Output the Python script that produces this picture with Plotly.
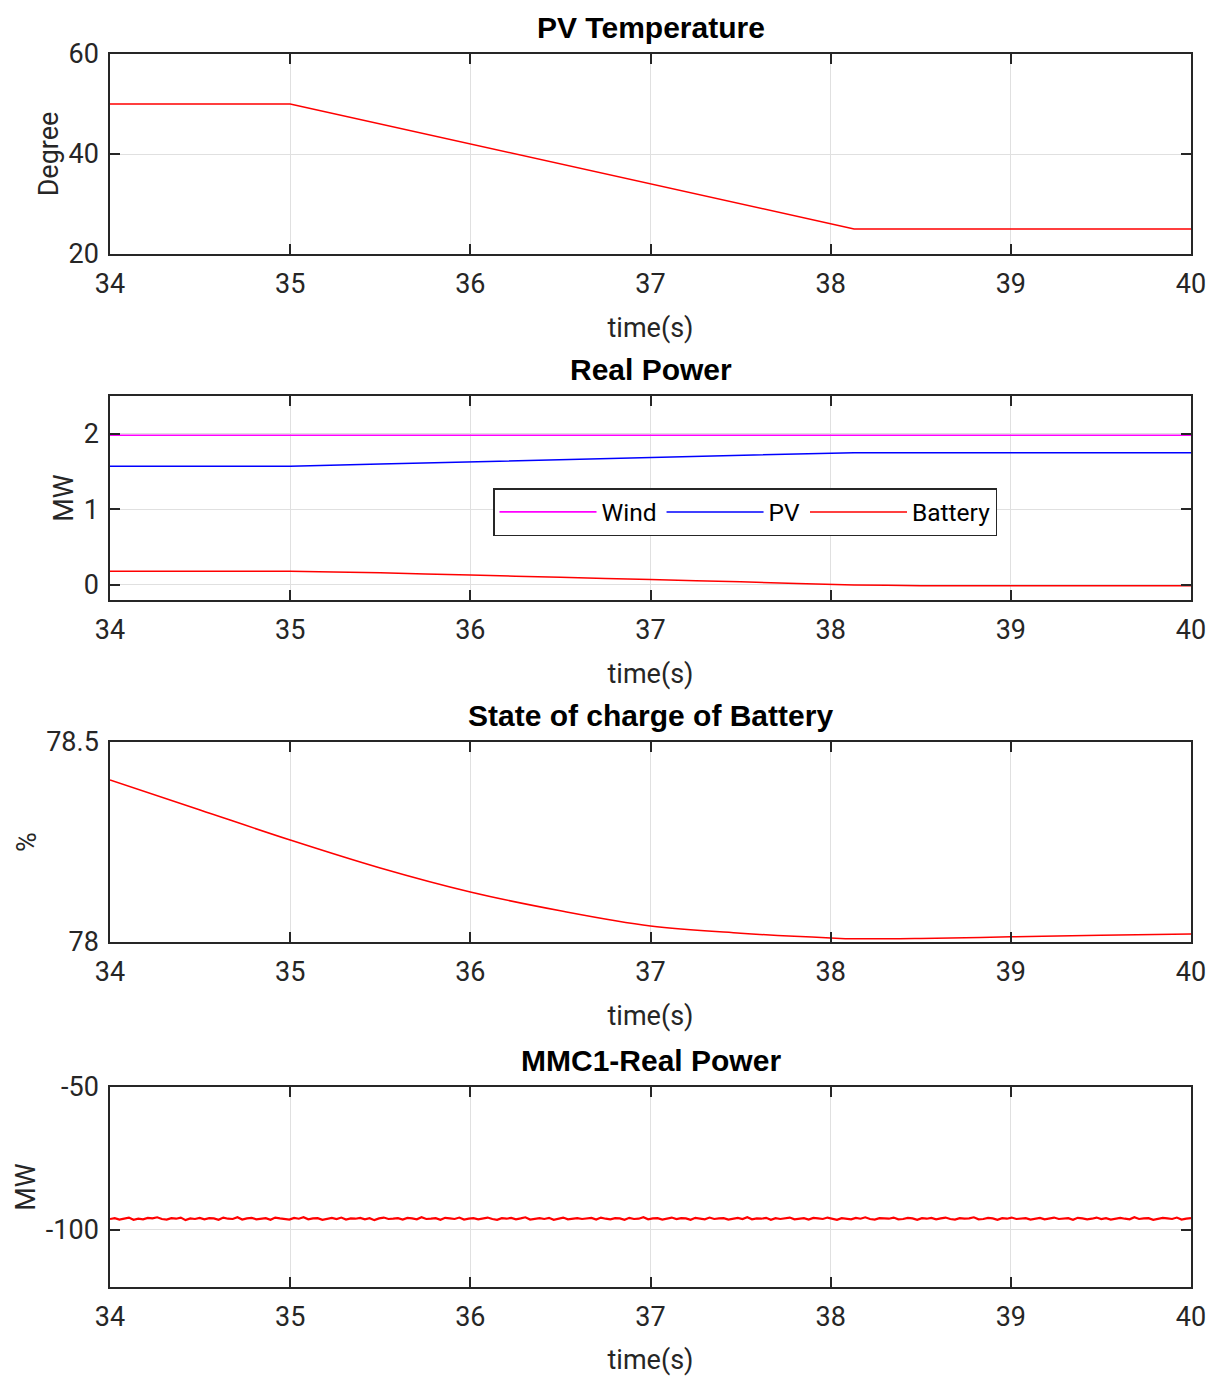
import plotly.graph_objects as go

# ---------------- data ----------------
t_temp = [34, 35, 38.13, 40]
temp = [50, 50, 25, 25]

t_pow = [34, 35, 35.5, 36, 36.5, 37, 37.5, 38.13, 38.5, 39, 40]
wind = [1.98, 1.98, 1.98, 1.98, 1.98, 1.98, 1.98, 1.98, 1.98, 1.98, 1.98]
pv = [1.57, 1.57, 1.60, 1.63, 1.66, 1.69, 1.72, 1.75, 1.75, 1.75, 1.75]
battery = [0.18, 0.18, 0.16, 0.13, 0.10, 0.07, 0.04, 0.0, -0.01, -0.01, -0.01]

t_soc = [34, 34.5, 35, 35.5, 36, 36.5, 37, 37.5, 38, 38.13, 38.5, 39, 39.5, 40]
soc = [78.405, 78.33, 78.255, 78.185, 78.125, 78.078, 78.04, 78.022, 78.01, 78.008,
       78.009, 78.013, 78.017, 78.02]

mmc_start, mmc_end = 34.0, 40.0
mmc = [-96.2, -95.9, -96.4, -96.0, -95.7, -96.5, -96.1, -96.3, -95.8, -96.0,
       -95.6, -96.2, -96.4, -95.9, -96.1, -95.7, -96.6, -96.0, -96.2, -95.8,
       -96.3, -95.9, -96.0, -96.5, -95.7, -96.1, -96.2, -95.6, -96.4, -96.0,
       -95.8, -96.3, -96.1, -95.9, -96.5, -95.7, -96.0, -96.2, -96.4, -95.8,
       -96.1, -95.6, -96.3, -96.0, -95.9, -96.5, -96.1, -95.8, -96.2, -95.7,
       -96.4, -96.0, -96.1, -95.8, -96.3, -95.9, -96.6, -96.0, -95.7, -96.2,
       -96.1, -95.9, -96.4, -95.8, -96.0, -96.3, -95.6, -96.2, -96.1, -95.9,
       -96.5, -95.8, -96.0, -96.2, -95.7, -96.4, -96.1, -95.9, -96.3, -96.0,
       -95.7, -96.2, -96.5, -95.9, -96.1, -95.8, -96.3, -96.0, -95.6, -96.4,
       -96.1, -95.9, -96.2, -95.8, -96.5, -96.0, -95.7, -96.3, -96.1, -95.9,
       -96.2, -96.0, -95.8, -96.4, -95.7, -96.1, -96.3, -95.9, -96.0, -96.5,
       -95.8, -96.2, -96.1, -95.6, -96.3, -96.0, -95.9, -96.4, -96.1, -95.7,
       -96.2, -95.9, -96.0, -96.5, -95.8, -96.1, -96.3, -95.7, -96.2, -96.0,
       -95.9, -96.4, -96.1, -95.8, -96.2, -95.6, -96.3, -96.0, -96.1, -95.8,
       -96.5, -95.9, -96.2, -96.0, -95.7, -96.3, -96.1, -95.9, -96.4, -95.8,
       -96.0, -96.2, -95.7, -96.1, -96.5, -95.9, -96.0, -96.3, -95.8, -96.1,
       -95.6, -96.2, -96.4, -95.9, -96.0, -96.1, -95.7, -96.3, -96.2, -95.8,
       -96.0, -96.5, -95.9, -96.1, -95.8, -96.3, -96.0, -95.7, -96.2, -96.4,
       -95.9, -96.1, -96.0, -95.6, -96.3, -96.2, -95.8, -96.0, -96.5, -95.9,
       -96.1, -95.7, -96.2, -96.0, -95.9, -96.4, -96.1, -95.8, -96.3, -96.0,
       -95.7, -96.2, -96.1, -95.9, -96.5, -95.8, -96.0, -96.3, -96.1, -95.7,
       -96.2, -95.9, -96.4, -96.0, -95.8, -96.1, -96.3, -95.6, -96.2, -96.0,
       -95.9, -96.5, -96.1, -95.8, -96.0, -96.2, -95.7, -96.4, -96.1, -95.9]
mmc_t = [mmc_start + i * (mmc_end - mmc_start) / (len(mmc) - 1) for i in range(len(mmc))]

x_ticks = [34, 35, 36, 37, 38, 39, 40]
titles = ["PV Temperature", "Real Power", "State of charge of Battery", "MMC1-Real Power"]
y_titles = ["Degree", "MW", "%", "MW"]

# ---------------- figure ----------------
OFF = 8                       # default page body margin
W, H = 1215 - OFF, 1376 - OFF
PL, PR, PT, PB = 110, 1191, 54, 1287   # plot-area edges in page pixels
ml, mr, mt, mb = PL - OFF, (OFF + W) - PR, PT - OFF, (OFF + H) - PB
ph = PB - PT
frames = [(54, 254), (396, 600), (742, 942), (1087, 1287)]  # page pixel top/bottom
domains = [[(PB - b) / ph, (PB - t) / ph] for t, b in frames]

fig = go.Figure()
fig.add_trace(go.Scatter(x=t_temp, y=temp, mode="lines", line=dict(color="#ff0000", width=1.5),
                         showlegend=False, xaxis="x", yaxis="y"))
fig.add_trace(go.Scatter(x=t_pow, y=wind, mode="lines", name="Wind",
                         line=dict(color="#ff00ff", width=1.6), xaxis="x2", yaxis="y2"))
fig.add_trace(go.Scatter(x=t_pow, y=pv, mode="lines", name="PV",
                         line=dict(color="#0000ff", width=1.5), xaxis="x2", yaxis="y2"))
fig.add_trace(go.Scatter(x=t_pow, y=battery, mode="lines", name="Battery", line_shape="spline",
                         line=dict(color="#ff0000", width=1.5, smoothing=0.6), xaxis="x2", yaxis="y2"))
fig.add_trace(go.Scatter(x=t_soc, y=soc, mode="lines", line_shape="spline",
                         line=dict(color="#ff0000", width=1.5), showlegend=False, xaxis="x3", yaxis="y3"))
fig.add_trace(go.Scatter(x=mmc_t, y=mmc, mode="lines", line=dict(color="#ff0000", width=2.2),
                         showlegend=False, xaxis="x4", yaxis="y4"))

axis_color = "#262626"
tick_font = dict(family="Roboto", size=27, color=axis_color)
common = dict(showline=True, linecolor=axis_color, linewidth=1.5, mirror="ticks",
              ticks="inside", ticklen=10, tickwidth=1.5, tickcolor=axis_color,
              showgrid=True, gridcolor="#e0e0e0", gridwidth=1, zeroline=False,
              tickfont=tick_font, automargin=False)

y_specs = [
    dict(range=[20, 60], tickvals=[20, 40, 60]),
    dict(range=[-0.2, 2.5], tickvals=[0, 1, 2]),
    dict(range=[78, 78.5], tickvals=[78, 78.5], ticktext=["78", "78.5"]),
    dict(range=[-120, -50], tickvals=[-100, -50], ticktext=["-100", "-50"]),
]

layout = dict(width=W, height=H, margin=dict(l=ml, r=mr, t=mt, b=mb),
              paper_bgcolor="white", plot_bgcolor="white",
              font=dict(family="Roboto", color=axis_color))
annotations = []
for i in range(4):
    sx = "" if i == 0 else str(i + 1)
    layout["xaxis" + sx] = dict(common, domain=[0, 1], range=[34, 40], tickvals=x_ticks,
                                anchor="y" + sx, ticklabelstandoff=5,
                                title=dict(text="time(s)", font=dict(family="Roboto", size=27, color=axis_color),
                                           standoff=19))
    layout["yaxis" + sx] = dict(common, domain=domains[i], anchor="x" + sx, ticklabelstandoff=4,
                                **y_specs[i],
                                title=dict(text=y_titles[i], font=dict(family="Roboto", size=27, color=axis_color),
                                           standoff=2))
    annotations.append(dict(text="<b>" + titles[i] + "</b>", x=0.5, xref="paper",
                            y=domains[i][1], yref="paper", yanchor="bottom", xanchor="center",
                            yshift=8, showarrow=False,
                            font=dict(family="Liberation Sans", size=30, color="black")))
layout["annotations"] = annotations
layout["legend"] = dict(orientation="h", x=(745 - PL) / (PR - PL), y=(PB - 512) / ph,
                        xanchor="center", yanchor="middle",
                        bordercolor=axis_color, borderwidth=1.5, bgcolor="white",
                        font=dict(family="Roboto", size=24.5, color="black"),
                        itemwidth=97, tracegroupgap=0)
fig.update_layout(**layout)
fig.write_html("out.html")
